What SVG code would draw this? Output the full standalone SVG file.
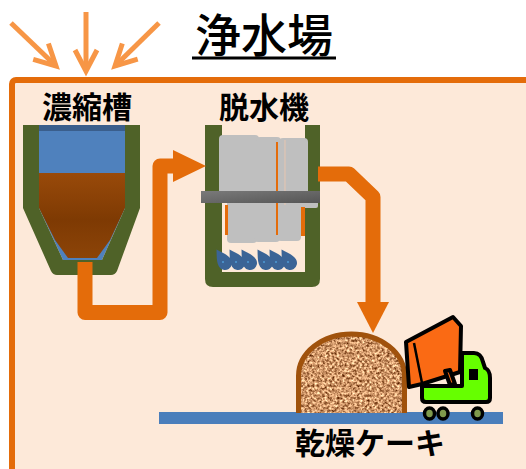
<svg xmlns="http://www.w3.org/2000/svg" width="526" height="469" viewBox="0 0 526 469">
  <style>
    .lbl { font-family: "Noto Sans CJK JP", "Noto Sans CJK SC", sans-serif; font-weight: 700; font-size: 30px; fill: #000; text-anchor: middle; }
    .title { font-family: "Noto Sans CJK JP", "Noto Sans CJK SC", sans-serif; font-weight: 500; font-size: 46px; fill: #000; text-anchor: middle; }
    .sun { stroke: #F79646; stroke-width: 5; fill: none; }
    .pipe { stroke: #E46C0A; stroke-width: 15; fill: none; stroke-linejoin: round; }
    .head { fill: #E46C0A; }
    .wall { fill: #4F6228; }
    .drop { fill: #3B6496; }
    .ink { stroke: #000; stroke-width: 4; stroke-linejoin: round; }
  </style>
  <defs>
    <marker id="openHead" viewBox="0 0 34 30" refX="24" refY="15" markerWidth="34" markerHeight="30" markerUnits="userSpaceOnUse" orient="auto" overflow="visible">
      <path d="M3,4 L24,15 L3,26" fill="none" stroke="#F79646" stroke-width="5"/>
    </marker>
    <linearGradient id="sludge" x1="0" y1="0" x2="0" y2="1">
      <stop offset="0" stop-color="#994A0A"/>
      <stop offset="0.55" stop-color="#7E3A03"/>
      <stop offset="1" stop-color="#8C4408"/>
    </linearGradient>
    <linearGradient id="bar" x1="0" y1="0" x2="1" y2="1">
      <stop offset="0" stop-color="#7A7A7A"/>
      <stop offset="1" stop-color="#555555"/>
    </linearGradient>
    <!-- speckled sand texture for the cake pile -->
    <filter id="grain" x="0" y="0" width="100%" height="100%" color-interpolation-filters="sRGB">
      <feTurbulence type="fractalNoise" baseFrequency="0.4" numOctaves="2" seed="7" result="n"/>
      <feColorMatrix in="n" type="matrix" values="1.3 0 0 0 0.16  1.3 0 0 0 -0.06  1.2 0 0 0 -0.19  0 0 0 0 1"/>
    </filter>
    <clipPath id="moundClip">
      <path d="M298.5,413 V376 A53,42 0 0 1 404.5,376 V413 Z"/>
    </clipPath>
    <path id="tear" d="M0,-16 C3.5,-10 7,-5 7,0 A7,7 0 0 1 -7,0 C-7,-5 -3.5,-10 0,-16 Z"/>
  </defs>

  <!-- plant area -->
  <rect id="plant" x="12" y="80" width="560" height="420" rx="4" fill="#FDE9D9" stroke="#E46C0A" stroke-width="6"/>

  <!-- sunlight -->
  <g id="sunlight">
    <line class="sun" x1="11" y1="23" x2="56" y2="66" marker-end="url(#openHead)"/>
    <line class="sun" x1="86" y1="12" x2="86" y2="71" marker-end="url(#openHead)"/>
    <line class="sun" x1="159" y1="23" x2="115" y2="66" marker-end="url(#openHead)"/>
  </g>

  <!-- title -->
  <g id="title">
    <text class="title" x="264" y="52">浄水場</text>
    <line x1="192" y1="58" x2="336" y2="58" stroke="#000" stroke-width="3"/>
  </g>

  <!-- thickener -->
  <g id="thickener">
    <path d="M39,125 H125 V208 L102,260 H63 L39,208 Z" fill="#4F81BD"/>
    <rect x="39" y="125" width="86" height="6" fill="#3A5E8C"/>
    <path d="M39,173 H125 V208 L110,240 L97,258 H68 L55,240 L39,208 Z" fill="url(#sludge)"/>
    <path class="wall" d="M23,125 H39 V208 L63,260 H102 L125,208 V125 H140 V208 L117,271 Q115,275 111,275 H57 Q53,275 51,271 L23,208 Z"/>
    <text class="lbl" x="87" y="118">濃縮槽</text>
  </g>

  <!-- dewatering machine -->
  <g id="dehydrator">
    <path class="wall" d="M205,125 H222 V272 H305 V125 H320 V279 Q320,287 312,287 H213 Q205,287 205,279 Z"/>
    <g fill="#BFBFBF">
      <rect x="219" y="135" width="40" height="62" rx="4"/>
      <rect x="256" y="137" width="25" height="60" rx="4"/>
      <rect x="279" y="138" width="29" height="59" rx="4"/>
      <rect x="227" y="195" width="30" height="48" rx="4"/>
      <rect x="254" y="195" width="26" height="47" rx="4"/>
      <rect x="277" y="195" width="24" height="46" rx="4"/>
      <rect x="300" y="201" width="18" height="7" rx="2"/>
    </g>
    <line x1="285" y1="140" x2="285" y2="205" stroke="#E8C6B0" stroke-width="1"/>
    <g fill="#E46C0A">
      <rect x="276" y="142" width="2" height="93"/>
      <rect x="225" y="205" width="3" height="30"/>
      <rect x="301" y="207" width="4" height="29"/>
    </g>
    <rect x="201" y="191" width="119" height="12" fill="url(#bar)"/>
    <g class="drop">
      <use href="#tear" transform="translate(225,263) rotate(-32)"/>
      <use href="#tear" transform="translate(238,263) rotate(-32)"/>
      <use href="#tear" transform="translate(250,263) rotate(-32)"/>
      <use href="#tear" transform="translate(266,263) rotate(-32)"/>
      <use href="#tear" transform="translate(278,263) rotate(-32)"/>
      <use href="#tear" transform="translate(290,263) rotate(-32)"/>
    </g>
    <g fill="#4F9BD6">
      <circle cx="223" cy="262" r="1"/>
      <circle cx="236" cy="262" r="1"/>
      <circle cx="248" cy="262" r="1"/>
      <circle cx="264" cy="262" r="1"/>
      <circle cx="276" cy="262" r="1"/>
      <circle cx="288" cy="262" r="1"/>
    </g>
    <text class="lbl" x="264" y="118">脱水機</text>
  </g>

  <!-- flow connectors -->
  <g id="connectors">
    <path class="pipe" d="M85,262 V312.5 H160 V166 H176"/>
    <polygon class="head" points="173,150 206,166 173,182"/>
    <path class="pipe" d="M318,174 H349 L373,197 V304"/>
    <polygon class="head" points="357,302 389,302 373,333"/>
  </g>

  <!-- ground -->
  <rect id="ground" x="159" y="412" width="344" height="12" fill="#4A7EBB"/>

  <!-- dried cake -->
  <g id="cake">
    <g clip-path="url(#moundClip)">
      <rect x="296" y="330" width="112" height="84" filter="url(#grain)"/>
    </g>
    <path d="M298.5,413 V376 A53,42 0 0 1 404.5,376 V413" fill="none" stroke="#A0520C" stroke-width="5"/>
    <text class="lbl" x="370" y="454">乾燥ケーキ</text>
  </g>

  <!-- dump truck -->
  <g id="truck">
    <polygon class="ink" points="406,342 453,317 461,326 460,372 422,384 409,387" fill="#FA6A14"/>
    <line x1="414" y1="343" x2="422" y2="383" stroke="#000" stroke-width="2.5"/>
    <polygon class="ink" points="445,371 450,370 455,384 450,385" fill="#FA6A14" stroke-width="2.5"/>
    <path class="ink" d="M422,386 H462 V353 H474 Q481,353 483,362 L485,368 Q490,370 490,378 V398 Q490,402 486,402 H426 Q422,402 422,398 Z" fill="#66FF00"/>
    <rect x="469" y="369" width="9" height="11" fill="#000"/>
    <g fill="#7F9A4C" stroke="#000" stroke-width="3.5">
      <ellipse cx="429.5" cy="413.5" rx="5" ry="5.5"/>
      <ellipse cx="443" cy="413.5" rx="5" ry="5.5"/>
      <ellipse cx="477.5" cy="413.5" rx="5" ry="5.5"/>
    </g>
  </g>
</svg>
